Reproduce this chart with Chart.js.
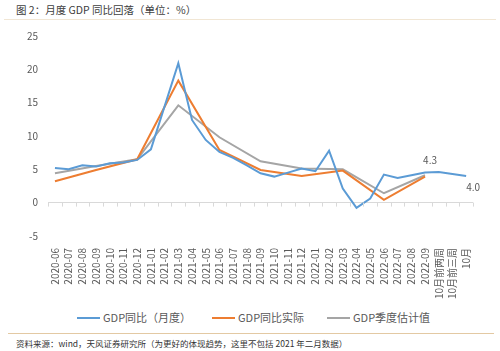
<!DOCTYPE html>
<html>
<head>
<meta charset="utf-8">
<script src="https://cdn.jsdelivr.net/npm/chart.js@4"></script>
<style>
  body { margin: 0; background: #fff; }
  #wrap { position: relative; width: 500px; height: 351px; font-family: 'Noto Sans CJK SC', sans-serif; }
  #title { position: absolute; left: 16px; top: 2px; font-size: 10.5px; color: #404040; white-space: nowrap; }
  #topline { position: absolute; left: 4px; right: 4px; top: 19px; height: 1px; background: #f1e6d4; }
  #box { position: absolute; left: 0; top: 20px; width: 500px; height: 283px; }
  #legend { position: absolute; left: 0; top: 309px; width: 500px; height: 16px; }
  .item { position: absolute; top: 0; font-size: 11px; color: #595959; white-space: nowrap; line-height: 16px; }
  .item i { display: inline-block; width: 23px; height: 2px; vertical-align: middle; margin-right: 3px; position: relative; top: -1px; }
  #botline { position: absolute; left: 8px; right: 6px; top: 333px; height: 1px; background: #e3c9a3; }
  #source { position: absolute; left: 16px; top: 337px; font-size: 8.5px; color: #333; white-space: nowrap; }
</style>
</head>
<body>
<div id="wrap">
  <div id="title">图 2：月度 GDP 同比回落（单位：%）</div>
  <div id="topline"></div>
  <div id="box"><canvas id="gdpChart" width="500" height="283"></canvas></div>
  <div id="legend"></div>
  <div id="botline"></div>
  <div id="source">资料来源：wind，天风证券研究所（为更好的体现趋势，这里不包括 2021 年二月数据）</div>
</div>
<script>
// 月份
const months = [
    '2020-06', '2020-07', '2020-08', '2020-09', '2020-10', '2020-11', '2020-12',
    '2021-01', '2021-02', '2021-03', '2021-04', '2021-05', '2021-06', '2021-07',
    '2021-08', '2021-09', '2021-10', '2021-11', '2021-12', '2022-01', '2022-02',
    '2022-03', '2022-04', '2022-05', '2022-06', '2022-07', '2022-08', '2022-09',
    '10月前两周', '10月前三周', '10月'
];

// GDP同比（月度）- 2021-02 不包括
const gdpMonthly = [
    5.2, 5.0, 5.6, 5.4, 5.9, 6.0, 6.4,
    8.0, null, 20.9, 12.4, 9.4, 7.6, 6.7,
    5.6, 4.4, 3.9, 4.5, 5.1, 4.7, 7.8,
    2.1, -0.8, 0.6, 4.2, 3.7, 4.1, 4.5,
    4.6, 4.3, 4.0
];

// GDP同比实际（季度）
const gdpActual = [
    3.2, null, null, 4.9, null, null, 6.5,
    null, null, 18.3, null, null, 7.9, null,
    null, 4.9, null, null, 4.0, null, null,
    4.8, null, null, 0.4, null, null, 3.9,
    null, null, null
];

// GDP季度估计值
const gdpEstimate = [
    4.4, null, null, 5.5, null, null, 6.5,
    null, null, 14.6, null, null, 9.8, null,
    null, 6.2, null, null, 5.1, null, null,
    5.0, null, null, 1.4, null, null, 4.1,
    null, null, null
];

const yTicks = [-5, 0, 5, 10, 15, 20, 25];

const seriesNames = ['GDP同比（月度）', 'GDP同比实际', 'GDP季度估计值'];
const seriesColors = ['#5b9bd5', '#ed7d31', '#a5a5a5'];
const legendLeft = [77, 212, 327];

// 数据标注
const valueLabels = [
    { dataset: 2, index: 27, text: '4.3', dx: 5, dy: -15 },
    { dataset: 0, index: 30, text: '4.0', dx: 7, dy: 11 }
];

const FONT = "'Noto Sans CJK SC', sans-serif";
const TEXT_COLOR = '#595959';

const zeroLineTicks = {
    id: 'zeroLineTicks',
    afterDatasetsDraw(chart) {
        const { ctx, scales: { x, y } } = chart;
        const y0 = y.getPixelForValue(0);
        const step = x.getPixelForValue(1) - x.getPixelForValue(0);
        ctx.save();
        ctx.strokeStyle = '#d9d9d9';
        ctx.lineWidth = 1;
        ctx.beginPath();
        for (let i = 0; i <= months.length; i++) {
            const px = Math.round(x.getPixelForValue(i) - step / 2) + 0.5;
            ctx.moveTo(px, y0);
            ctx.lineTo(px, y0 + 4);
        }
        ctx.stroke();
        ctx.restore();
    }
};

const pointLabels = {
    id: 'pointLabels',
    afterDatasetsDraw(chart) {
        const { ctx } = chart;
        ctx.save();
        ctx.font = '10px ' + FONT;
        ctx.fillStyle = TEXT_COLOR;
        ctx.textAlign = 'center';
        ctx.textBaseline = 'middle';
        valueLabels.forEach(l => {
            const pt = chart.getDatasetMeta(l.dataset).data[l.index];
            if (pt) ctx.fillText(l.text, pt.x + l.dx, pt.y + l.dy);
        });
        ctx.restore();
    }
};

const lineDs = (label, data, color) => ({
    label,
    data,
    borderColor: color,
    backgroundColor: color,
    borderWidth: 2,
    pointRadius: 0,
    pointHoverRadius: 0,
    tension: 0,
    spanGaps: true
});

new Chart(document.getElementById('gdpChart'), {
    type: 'line',
    data: {
        labels: months,
        datasets: [
            lineDs(seriesNames[0], gdpMonthly, seriesColors[0]),
            lineDs(seriesNames[1], gdpActual, seriesColors[1]),
            lineDs(seriesNames[2], gdpEstimate, seriesColors[2])
        ]
    },
    options: {
        responsive: false,
        animation: false,
        layout: { padding: { left: 17, right: 27, top: 2, bottom: 0 } },
        plugins: {
            legend: { display: false },
            tooltip: { enabled: false }
        },
        scales: {
            x: {
                offset: true,
                grid: { display: false },
                border: { display: false },
                ticks: {
                    autoSkip: false,
                    maxRotation: 90,
                    minRotation: 90,
                    padding: 4,
                    color: TEXT_COLOR,
                    font: { family: FONT, size: 10 }
                }
            },
            y: {
                min: -5,
                max: 25,
                afterBuildTicks: axis => { axis.ticks = yTicks.map(v => ({ value: v })); },
                border: { display: false },
                grid: {
                    drawTicks: false,
                    color: c => (c.tick && c.tick.value === 0 ? '#d9d9d9' : 'transparent')
                },
                ticks: {
                    padding: 10,
                    color: TEXT_COLOR,
                    font: { family: FONT, size: 10 }
                }
            }
        }
    },
    plugins: [zeroLineTicks, pointLabels]
});

// 图例
const legendEl = document.getElementById('legend');
legendEl.innerHTML = seriesNames.map((name, i) =>
    `<div class="item" style="left:${legendLeft[i]}px"><i style="background:${seriesColors[i]}"></i>${name}</div>`
).join('');
</script>
</body>
</html>
